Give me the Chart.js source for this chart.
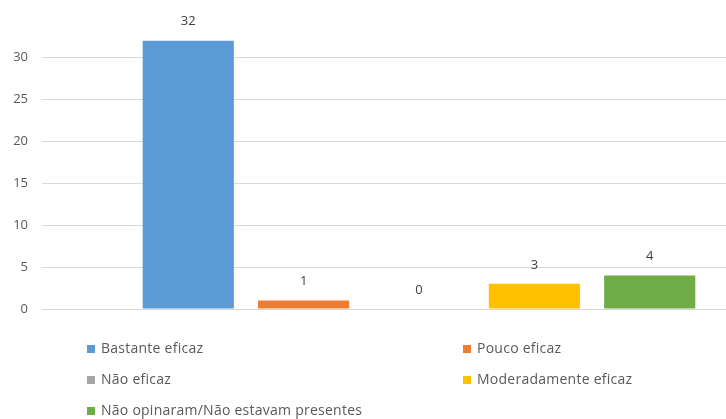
<!DOCTYPE html>
<html lang="pt">
<head>
<meta charset="utf-8">
<title>Eficácia</title>
<script src="https://cdn.jsdelivr.net/npm/chart.js@4/dist/chart.umd.min.js"></script>
<style>
    html, body { margin: 0; padding: 0; background: #fff; overflow: hidden; }
    #wrap { width: 726px; height: 419px; overflow: hidden; position: relative; }
    #chart { position: absolute; left: 0; top: 0; }
</style>
</head>
<body>
<div id="wrap">
    <canvas id="chart" width="800" height="419"></canvas>
</div>
<script>
// Data
const categories = [''];
const seriesNames = [
    'Bastante eficaz',
    'Pouco eficaz',
    'Não eficaz',
    'Moderadamente eficaz',
    'Não opinaram/Não estavam presentes'
];
const seriesValues = [32, 1, 0, 3, 4];
const seriesColors = ['#5B9BD5', '#ED7D31', '#A5A5A5', '#FFC000', '#70AD47'];
const yTicks = [0, 5, 10, 15, 20, 25, 30];

const textColor = '#595959';
const fontFamily = '"Open Sans", "DejaVu Sans", sans-serif';

// Value labels above each bar
const valueLabels = {
    id: 'valueLabels',
    afterDatasetsDraw(chart) {
        const ctx = chart.ctx;
        ctx.save();
        ctx.font = '13px ' + fontFamily;
        ctx.fillStyle = '#404040';
        ctx.textAlign = 'center';
        ctx.textBaseline = 'middle';
        chart.data.datasets.forEach((ds, i) => {
            const bar = chart.getDatasetMeta(i).data[0];
            ctx.fillText(String(ds.data[0]), bar.x, bar.y - 19);
        });
        ctx.restore();
    }
};

// Two-column legend under the plot
const gridLegend = {
    id: 'gridLegend',
    afterDraw(chart) {
        const ctx = chart.ctx;
        const cols = [87, 463];
        const rows = [349, 380, 411];
        ctx.save();
        ctx.font = '14px ' + fontFamily;
        ctx.letterSpacing = '0.25px';
        ctx.textBaseline = 'middle';
        ctx.textAlign = 'left';
        chart.data.datasets.forEach((ds, i) => {
            const x = cols[i % 2];
            const y = rows[Math.floor(i / 2)];
            ctx.fillStyle = ds.backgroundColor;
            ctx.fillRect(x, y - 4, 8, 8);
            ctx.fillStyle = textColor;
            ctx.fillText(ds.label, x + 14, y);
        });
        ctx.restore();
    }
};

const datasets = seriesNames.map((name, i) => ({
    label: name,
    data: [seriesValues[i]],
    backgroundColor: seriesColors[i],
    borderWidth: 0,
    categoryPercentage: 0.765,
    barPercentage: 0.79
}));

new Chart(document.getElementById('chart'), {
    type: 'bar',
    data: { labels: categories, datasets: datasets },
    options: {
        responsive: false,
        animation: false,
        devicePixelRatio: 1,
        layout: { padding: { top: 24, right: 4, bottom: 110, left: 0 } },
        plugins: {
            legend: { display: false },
            tooltip: { enabled: false }
        },
        scales: {
            x: { display: false },
            y: {
                min: 0,
                max: 34,
                afterFit(scale) { scale.width = 42; },
                afterBuildTicks(scale) {
                    scale.ticks = yTicks.map(v => ({ value: v }));
                },
                border: { display: false },
                grid: { color: '#d9d9d9', lineWidth: 1, drawTicks: false },
                ticks: {
                    padding: 14,
                    color: textColor,
                    font: { size: 13, family: fontFamily }
                }
            }
        }
    },
    plugins: [valueLabels, gridLegend]
});
</script>
</body>
</html>
